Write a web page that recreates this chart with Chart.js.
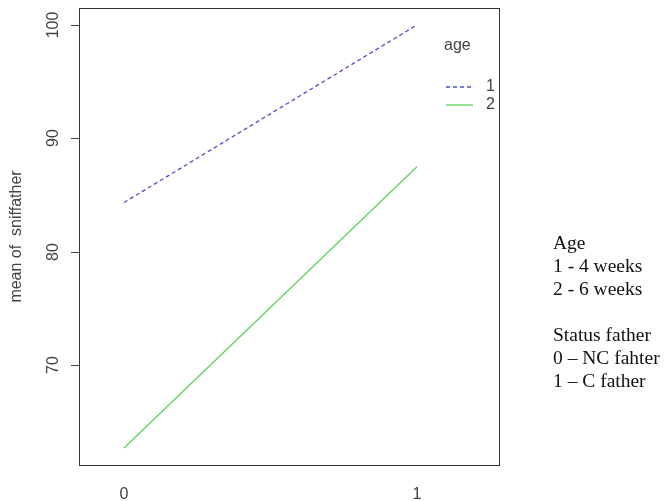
<!DOCTYPE html>
<html>
<head>
<meta charset="utf-8">
<script src="https://cdn.jsdelivr.net/npm/chart.js@4"></script>
<style>
  body { margin: 0; background: #fff; }
  #wrap { position: relative; width: 664px; height: 501px; }
  #notes {
    position: absolute; left: 553px; top: 231px;
    font: 19.5px "Liberation Serif", "Times New Roman", serif;
    line-height: 23px; color: #111; white-space: nowrap;
  }
</style>
</head>
<body>
<div id="wrap">
  <canvas id="chart" width="664" height="501"></canvas>
  <div id="notes">Age<br>1 - 4 weeks<br>2 - 6 weeks<br>&nbsp;<br>Status father<br>0 – NC fahter<br>1 – C father</div>
</div>
<script>
// data
var statusFather = [0, 1];
var ageLevels = ['1', '2'];
var age1Means = [84.35, 100.0];
var age2Means = [62.72, 87.5];
var yTickValues = [70, 80, 90, 100];
var xTickValues = [0, 1];

var lineColors = ['#4d4dd6', '#5cd65c'];
var lineDashes = [[4, 3], []];
var textCol = '#444';
var font16 = '16px "Liberation Sans", Arial, sans-serif';

function toPoints(vals) {
  return statusFather.map(function (s, i) { return { x: s, y: vals[i] }; });
}

// box, y ticks with rotated labels, and the in-plot legend
var decor = {
  id: 'decor',
  afterDraw: function (chart) {
    var ctx = chart.ctx, a = chart.chartArea, y = chart.scales.y;
    ctx.save();
    ctx.strokeStyle = '#333';
    ctx.lineWidth = 1;
    ctx.strokeRect(a.left + 0.5, a.top + 0.5, a.right - a.left, a.bottom - a.top);

    ctx.font = font16;
    ctx.textAlign = 'center';
    ctx.textBaseline = 'middle';
    y.ticks.forEach(function (t) {
      var py = Math.round(y.getPixelForValue(t.value));
      ctx.fillStyle = '#444';
      ctx.fillRect(a.left - 8, py, 9, 1);
      ctx.fillStyle = textCol;
      ctx.save();
      ctx.translate(54, py);
      ctx.rotate(-Math.PI / 2);
      ctx.fillText(String(t.value), 0, 0);
      ctx.restore();
    });

    // legend
    ctx.fillStyle = textCol;
    ctx.textAlign = 'left';
    ctx.fillText('age', 444, 46);
    ageLevels.forEach(function (lvl, i) {
      var ly = 87 + i * 18;
      ctx.save();
      ctx.strokeStyle = lineColors[i];
      ctx.lineWidth = 1.3;
      ctx.setLineDash(lineDashes[i]);
      ctx.beginPath();
      ctx.moveTo(446, ly);
      ctx.lineTo(473, ly);
      ctx.stroke();
      ctx.restore();
      ctx.fillText(lvl, 486, ly);
    });
    ctx.restore();
  }
};

new Chart(document.getElementById('chart').getContext('2d'), {
  type: 'line',
  data: {
    datasets: [
      {
        label: ageLevels[0],
        data: toPoints(age1Means),
        borderColor: lineColors[0],
        borderWidth: 1.3,
        borderDash: lineDashes[0],
        pointRadius: 0,
        fill: false
      },
      {
        label: ageLevels[1],
        data: toPoints(age2Means),
        borderColor: lineColors[1],
        borderWidth: 1.3,
        pointRadius: 0,
        fill: false
      }
    ]
  },
  options: {
    responsive: false,
    animation: false,
    layout: { padding: { top: 8, right: 165, left: 0, bottom: 0 } },
    plugins: { legend: { display: false }, tooltip: { enabled: false } },
    scales: {
      x: {
        type: 'linear',
        min: -0.1536,
        max: 1.28,
        afterBuildTicks: function (s) { s.ticks = xTickValues.map(function (v) { return { value: v }; }); },
        afterFit: function (s) { s.height = 36; },
        grid: { display: false, drawTicks: false },
        border: { display: false },
        ticks: { padding: 20, color: textCol, font: { family: '"Liberation Sans", Arial', size: 16 } }
      },
      y: {
        min: 61.23,
        max: 101.49,
        afterBuildTicks: function (s) { s.ticks = yTickValues.map(function (v) { return { value: v }; }); },
        afterFit: function (s) { s.width = 79; },
        grid: { display: false },
        border: { display: false },
        ticks: { display: false },
        title: {
          display: true,
          text: 'mean of  sniffather',
          color: textCol,
          padding: { top: 7, bottom: 0 },
          font: { family: '"Liberation Sans", Arial', size: 16 }
        }
      }
    }
  },
  plugins: [decor]
});
</script>
</body>
</html>
